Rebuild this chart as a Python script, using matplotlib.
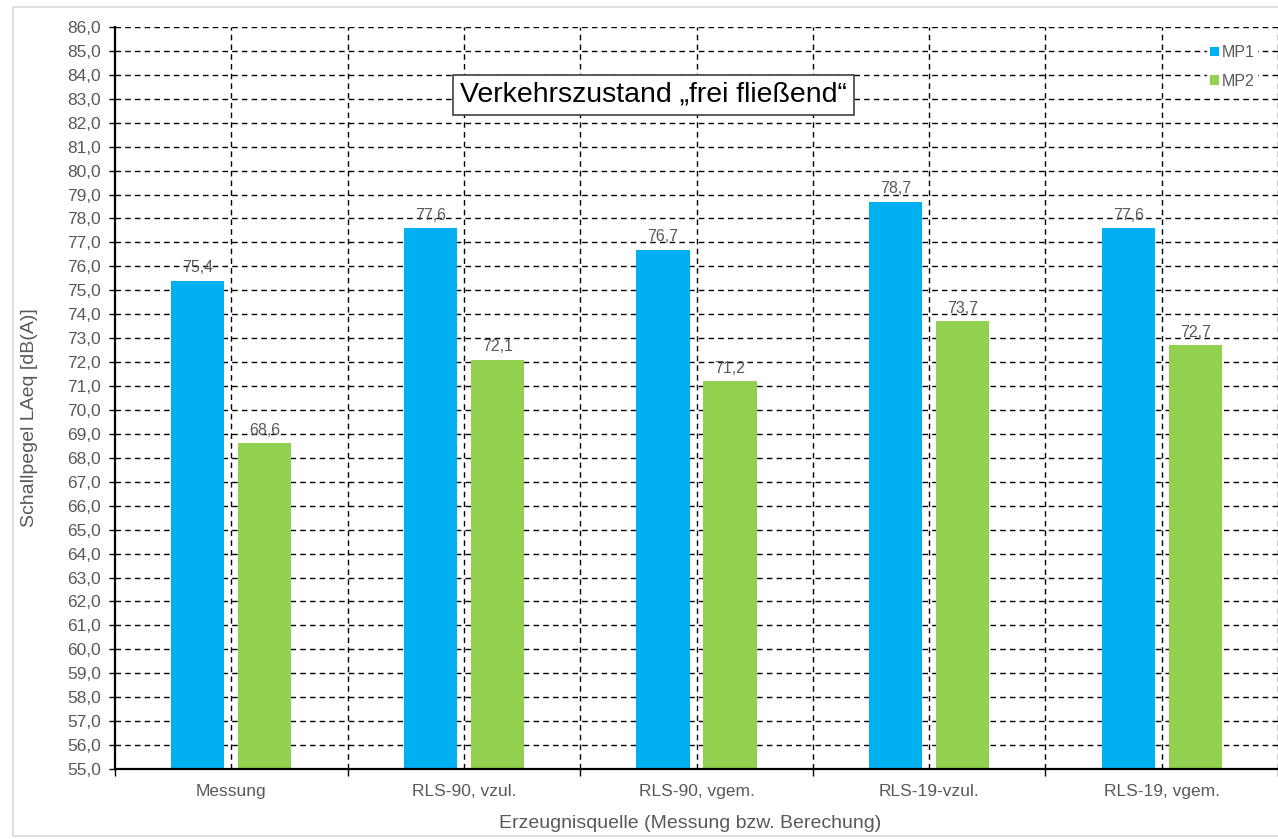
import matplotlib.pyplot as plt
import numpy as np
from matplotlib.patches import Rectangle

plt.rcParams['font.family'] = ['Liberation Sans', 'DejaVu Sans']

# Data
categories = ['Messung', 'RLS-90, vzul.', 'RLS-90, vgem.', 'RLS-19-vzul.', 'RLS-19, vgem.']
mp1 = [75.4, 77.6, 76.7, 78.7, 77.6]
mp2 = [68.6, 72.1, 71.2, 73.7, 72.7]
series_names = ['MP1', 'MP2']

blue = '#00B0F0'
green = '#92D050'
gray = '#595959'

fig = plt.figure(figsize=(12.78, 8.39), dpi=100)
ax = fig.add_axes([115 / 1278, 1 - 769 / 839, 1163 / 1278, 742 / 839])

# outer chart border
fig.patches.append(Rectangle((13 / 1278, 1 - 836 / 839), 1.0, 829 / 839,
                             transform=fig.transFigure, fill=False,
                             edgecolor='#d9d9d9', linewidth=1.2, zorder=0))

x = np.arange(len(categories))
width = 0.228
off = 0.144
b1 = ax.bar(x - off, mp1, width, color=blue, label=series_names[0], zorder=3)
b2 = ax.bar(x + off, mp2, width, color=green, label=series_names[1], zorder=3)

for bars, vals in ((b1, mp1), (b2, mp2)):
    for rect, v in zip(bars, vals):
        ax.text(rect.get_x() + rect.get_width() / 2, v + 0.22,
                f'{v:.1f}'.replace('.', ','), ha='center', va='bottom',
                fontsize=11.5, color=gray, zorder=4)

ax.set_ylim(55, 86)
ax.set_xlim(-0.5, len(categories) - 0.5)
yt = np.arange(55, 87, 1)
ax.set_yticks(yt)
ax.set_yticklabels([f'{v:.1f}'.replace('.', ',') for v in yt], fontsize=12.5, color=gray)

# boundaries as major ticks, category names on minor ticks
ax.set_xticks(np.arange(-0.5, len(categories), 1))
ax.set_xticklabels([])
ax.set_xticks(x, minor=True)
ax.set_xticklabels(categories, minor=True, fontsize=12.5, color=gray)
ax.tick_params(axis='x', which='minor', length=0, pad=11)
ax.tick_params(axis='x', which='major', length=5, width=1, color='black', direction='out')
ax.tick_params(axis='y', length=4, width=1, color='black', pad=6)

grid_kw = dict(color='black', linestyle=(0, (4, 3)), linewidth=1.0, zorder=1)
for yv in yt[1:]:
    ax.axhline(yv, **grid_kw)
for xv in np.arange(-0.5, len(categories), 0.5)[1:]:
    ax.axvline(xv, **grid_kw)

for s in ('top', 'right'):
    ax.spines[s].set_visible(False)
ax.spines['left'].set_linewidth(1.6)
ax.spines['bottom'].set_linewidth(1.6)
ax.spines['left'].set_zorder(5)
ax.spines['bottom'].set_zorder(5)

ax.set_ylabel('Schallpegel LAeq [dB(A)]', fontsize=14, color=gray)
ax.set_xlabel('Erzeugnisquelle (Messung bzw. Berechung)', fontsize=14, color=gray)
ax.yaxis.set_label_coords(-(115 - 30) / 1163, 0.473)
ax.xaxis.set_label_coords((690 - 115) / 1163, -(824 - 769) / 742)
ax.xaxis.label.set_va('center')
ax.yaxis.label.set_va('center')

ax.text(1.817, 83.16, 'Verkehrszustand \u201efrei flie\u00dfend\u201c',
        ha='center', va='center', fontsize=20.5, color='black', zorder=6,
        bbox=dict(boxstyle='square,pad=0.25', facecolor='white',
                  edgecolor='#404040', linewidth=1.2))

leg = ax.legend(loc='upper right', bbox_to_anchor=(1266 / 1278, 1 - 34 / 839),
                bbox_transform=fig.transFigure, frameon=True, fontsize=11.5,
                handlelength=0.55, handleheight=0.55, handletextpad=0.2,
                labelspacing=0.85, borderpad=0.2, labelcolor=gray)
leg.get_frame().set_edgecolor('none')
leg.get_frame().set_facecolor('white')
leg.get_frame().set_alpha(1)
leg.set_zorder(6)

fig.savefig('out.png', dpi=100)
